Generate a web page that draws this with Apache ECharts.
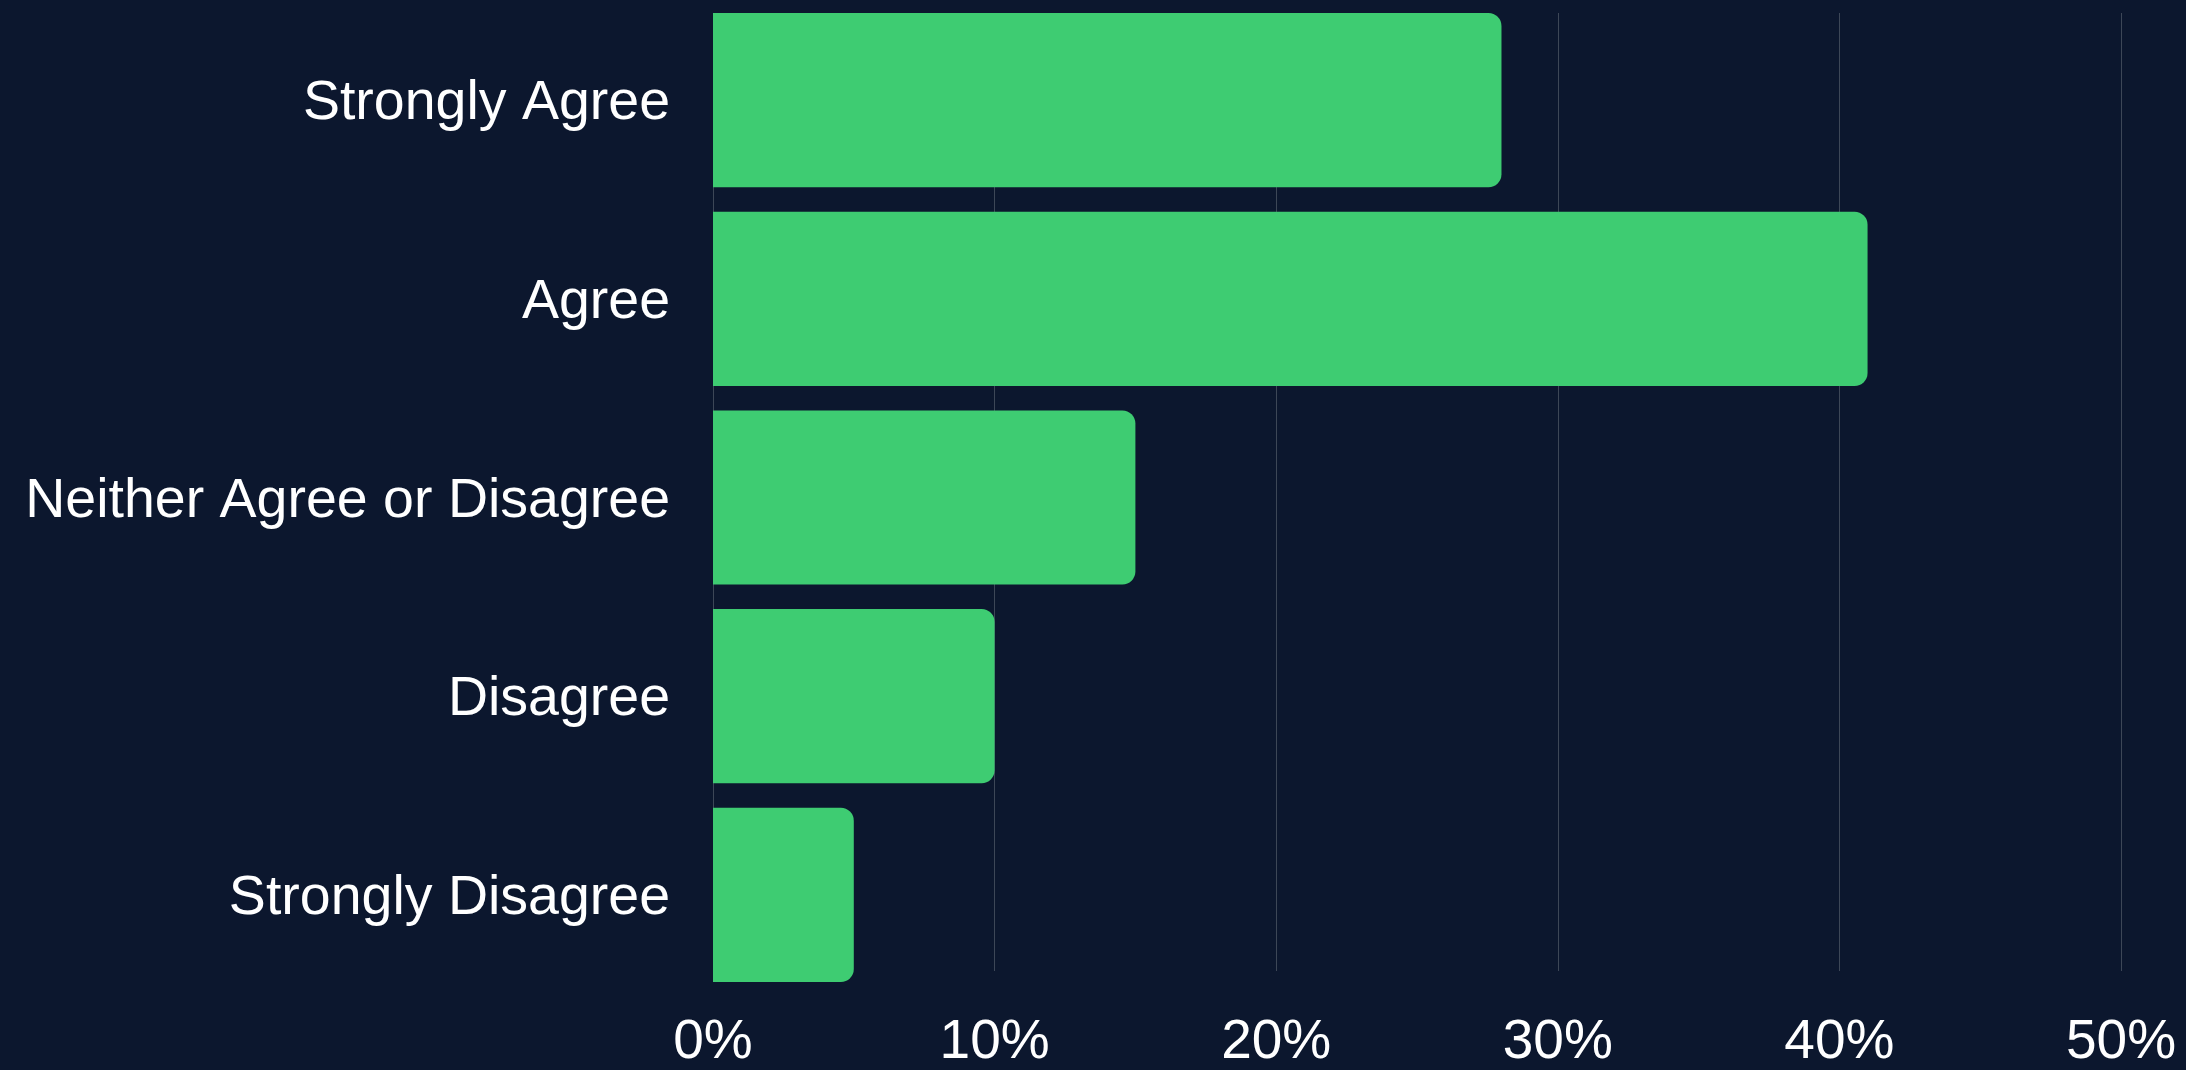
<!DOCTYPE html>
<html>
<head>
<meta charset="utf-8">
<script src="https://cdn.jsdelivr.net/npm/echarts@6/dist/echarts.min.js"></script>
<style>
  html, body { margin: 0; padding: 0; background: #0c172e; }
  #chart { width: 2186px; height: 1070px; }
</style>
</head>
<body>
<div id="chart"></div>
<script>
// Survey responses, top to bottom
const categories = ['Strongly Agree', 'Agree', 'Neither Agree or Disagree', 'Disagree', 'Strongly Disagree'];
// Share of respondents, in percent
const shares = [28, 41, 15, 10, 5];
// Horizontal axis ticks, in percent
const tickValues = [0, 10, 20, 30, 40, 50];

const xMin = tickValues[0];
const xMax = tickValues[tickValues.length - 1];
const xStep = tickValues[1] - tickValues[0];
const labelFont = 'Liberation Sans';

const chart = echarts.init(document.getElementById('chart'));
chart.setOption({
  backgroundColor: '#0c172e',
  animation: false,
  grid: [
    // bars: band edges reach past the gridlines so the outer bars sit flush
    { left: 713, right: 65, top: 0.8, bottom: 75.8 },
    // gridlines and percentage labels
    { left: 713, right: 65, top: 13, bottom: 88 }
  ],
  xAxis: [
    {
      gridIndex: 0, type: 'value', min: xMin, max: xMax, interval: xStep,
      axisLine: { show: false }, axisTick: { show: false },
      axisLabel: { show: false }, splitLine: { show: false }
    },
    {
      gridIndex: 1, type: 'value', min: xMin, max: xMax, interval: xStep,
      axisLine: { show: false },
      axisTick: { show: false },
      splitLine: { show: true, lineStyle: { color: '#3d4757', width: 1 } },
      axisLabel: {
        color: '#ffffff',
        fontFamily: labelFont,
        fontSize: 55,
        margin: 44,
        formatter: v => v + '%'
      },
      z: 0
    }
  ],
  yAxis: [
    {
      gridIndex: 0,
      type: 'category',
      data: categories,
      inverse: true,
      axisLine: { show: false },
      axisTick: { show: false },
      axisLabel: {
        color: '#ffffff',
        fontFamily: labelFont,
        fontSize: 55.5,
        margin: 43,
        formatter: v => '{c|' + v + '}',
        rich: {
          c: {
            color: '#ffffff',
            fontFamily: labelFont,
            fontSize: 55.5,
            padding: [8, 0, 0, 0]
          }
        }
      }
    },
    {
      gridIndex: 1, type: 'value', show: false
    }
  ],
  series: [{
    type: 'bar',
    xAxisIndex: 0,
    yAxisIndex: 0,
    data: shares,
    barCategoryGap: '12.3%',
    itemStyle: { color: '#3ecc72', borderRadius: [0, 13, 13, 0] },
    z: 2
  }]
});
</script>
</body>
</html>
